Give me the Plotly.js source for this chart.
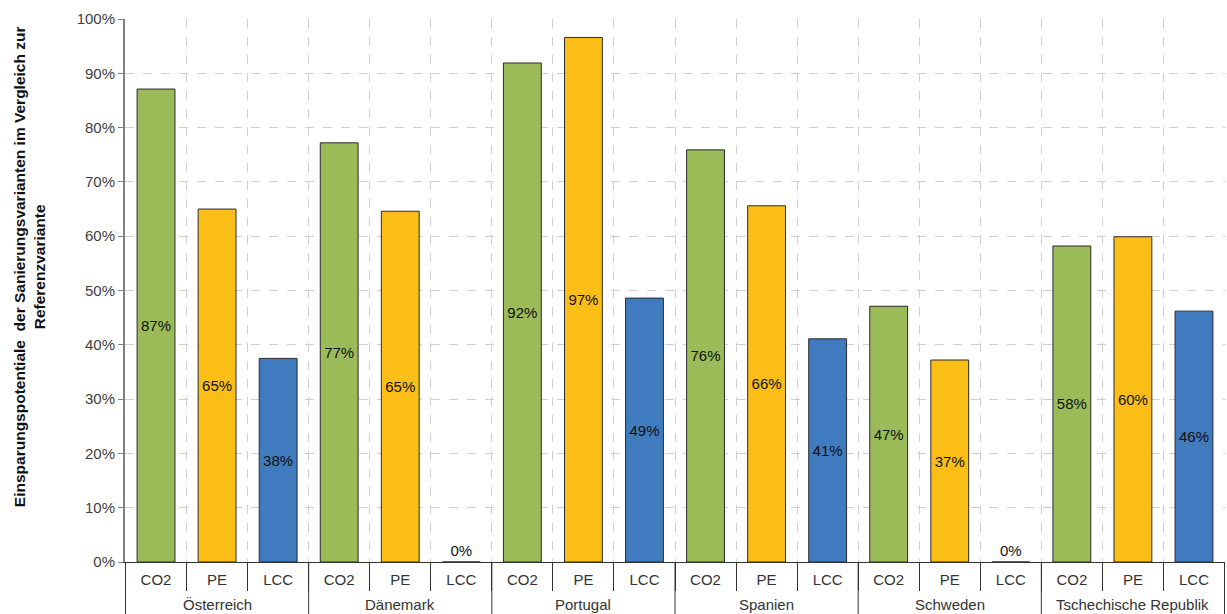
<!DOCTYPE html>
<html>
<head>
<meta charset="utf-8">
<script src="https://cdn.plot.ly/plotly-3.0.1.min.js"></script>
<style>
  html, body { margin: 0; padding: 0; background: #fff; }
  #chart { width: 1227px; height: 614px; }
</style>
</head>
<body>
<div id="chart"></div>
<script>
// Savings potential of the renovation variants relative to the reference variant (%)
const countries = ["Österreich", "Dänemark", "Portugal", "Spanien", "Schweden", "Tschechische Republik"];
const variants = ["CO2", "PE", "LCC"];
const co2Values = [87.1, 77.2, 91.9, 75.9, 47.1, 58.2];
const peValues  = [65.0, 64.6, 96.6, 65.6, 37.2, 59.9];
const lccValues = [37.5, 0.0, 48.6, 41.1, 0.0, 46.2];
const variantColors = { CO2: "#9BBB59", PE: "#FBBE16", LCC: "#3F7BBE" };
const yTitle = "Einsparungspotentiale  der Sanierungsvarianten im Vergleich zur<br>Referenzvariante";

const seriesByVariant = { CO2: co2Values, PE: peValues, LCC: lccValues };
const keys = [], variantLevel = [], values = [], colors = [], labels = [], labelPos = [];
countries.forEach((c, i) => {
  variants.forEach(v => {
    keys.push(c + " / " + v);
    variantLevel.push(v);
    const val = seriesByVariant[v][i];
    values.push(val);
    colors.push(variantColors[v]);
    labels.push(Math.round(val) + "%");
    // empty bars get their label just above the baseline
    labelPos.push(val > 0 ? "inside" : "outside");
  });
});

const font = "Liberation Sans, Arial, sans-serif";
const nV = variants.length;

const trace = {
  type: "bar",
  x: keys,
  y: values,
  width: 0.62,
  marker: { color: colors, line: { color: "#2b2b2b", width: 1 } },
  text: labels,
  textposition: labelPos,
  insidetextanchor: "middle",
  textangle: 0,
  constraintext: "none",
  cliponaxis: false,
  textfont: { family: font, size: 15, color: "#111" },
  insidetextfont: { family: font, size: 15, color: "#111" },
  outsidetextfont: { family: font, size: 15, color: "#111" },
  hoverinfo: "x+y"
};

// country group labels under the variant row, and full-height dividers between groups
const groupLabels = countries.map((c, i) => ({
  text: c,
  xref: "x", yref: "paper",
  x: i * nV + (nV - 1) / 2, y: -0.0958,
  xanchor: "center", yanchor: "bottom",
  borderpad: 0,
  showarrow: false,
  font: { family: font, size: 15, color: "#333" }
}));
const dividers = [];
for (let i = 0; i <= countries.length; i++) {
  dividers.push({
    type: "line",
    xref: "x", yref: "paper",
    x0: i * nV - 0.5, x1: i * nV - 0.5,
    y0: 0, y1: -0.11,
    line: { color: "#333", width: 1 }
  });
}

const layout = {
  width: 1227,
  height: 614,
  margin: { l: 125, r: 2, t: 19, b: 52 },
  paper_bgcolor: "#fff",
  plot_bgcolor: "#fff",
  showlegend: false,
  bargap: 0.38,
  font: { family: font, size: 15, color: "#404040" },
  xaxis: {
    type: "category",
    tickvals: keys,
    ticktext: variantLevel,
    tickson: "boundaries",
    ticks: "outside",
    ticklen: 28,
    tickcolor: "#333",
    tickwidth: 1,
    ticklabelstandoff: 4,
    showgrid: true,
    gridcolor: "#cfcfcf",
    griddash: "dash",
    gridwidth: 1,
    showline: true,
    linecolor: "#333",
    linewidth: 1,
    tickfont: { family: font, size: 15, color: "#333" },
    zeroline: false,
    automargin: false
  },
  yaxis: {
    range: [0, 100],
    dtick: 10,
    ticksuffix: "%",
    ticks: "outside",
    ticklen: 5,
    tickcolor: "#808080",
    showline: true,
    linecolor: "#808080",
    linewidth: 2,
    showgrid: true,
    gridcolor: "#cfcfcf",
    griddash: "dash",
    gridwidth: 1,
    zeroline: false,
    tickfont: { family: font, size: 15, color: "#404040" },
    automargin: false
  },
  shapes: dividers,
  annotations: [{
    text: yTitle,
    xref: "paper", yref: "paper",
    x: 0, y: 0.543,
    xanchor: "center", yanchor: "middle",
    xshift: -96,
    textangle: -90,
    showarrow: false,
    font: { family: font, size: 15.5, color: "#111", weight: "bold" }
  }].concat(groupLabels)
};

Plotly.newPlot("chart", [trace], layout, { displayModeBar: false, staticPlot: true });
</script>
</body>
</html>
